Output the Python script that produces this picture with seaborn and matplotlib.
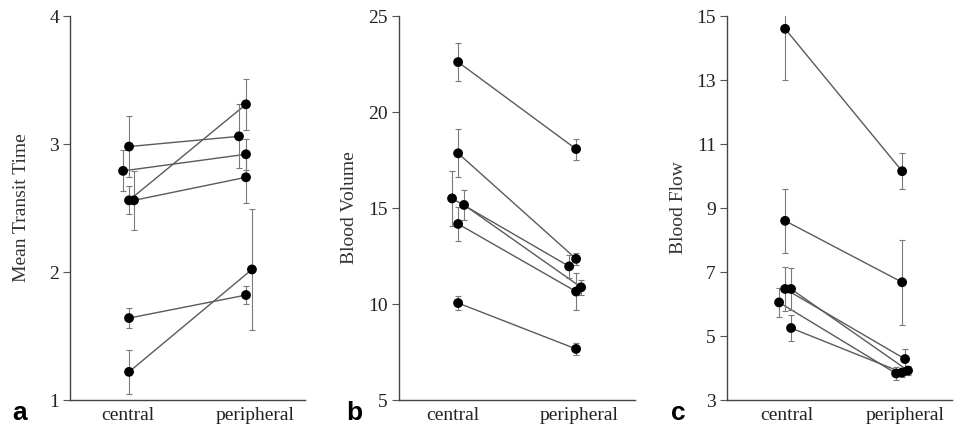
import numpy as np
import pandas as pd
import matplotlib
matplotlib.use("Agg")
import matplotlib.pyplot as plt
import seaborn as sns

# Sites compared for each subject
sites = ["central", "peripheral"]

# Mean transit time: per-subject means and error half-widths
mtt_central = [2.79, 2.98, 2.56, 2.56, 1.64, 1.22]
mtt_central_err = [0.16, 0.24, 0.11, 0.23, 0.08, 0.17]
mtt_peripheral = [2.92, 3.06, 3.31, 2.74, 1.82, 2.02]
mtt_peripheral_err = [0.12, 0.25, 0.20, 0.20, 0.07, 0.47]

# Blood volume
bv_central = [22.6, 17.85, 15.5, 15.16, 14.17, 10.05]
bv_central_err = [1.0, 1.25, 1.45, 0.8, 0.9, 0.35]
bv_peripheral = [18.07, 12.35, 11.96, 10.87, 10.65, 7.66]
bv_peripheral_err = [0.55, 0.3, 0.6, 0.4, 0.95, 0.3]

# Blood flow
bf_central = [14.6, 8.6, 6.47, 6.47, 6.05, 5.25]
bf_central_err = [1.6, 1.0, 0.7, 0.65, 0.45, 0.4]
bf_peripheral = [10.15, 6.68, 4.28, 3.92, 3.83, 3.86]
bf_peripheral_err = [0.57, 1.33, 0.3, 0.15, 0.2, 0.15]

mtt_ticks = [1, 2, 3, 4]
bv_ticks = [5, 10, 15, 20, 25]
bf_ticks = [3, 5, 7, 9, 11, 13, 15]

# Small horizontal dodge so overlapping subjects stay visible
mtt_dodge_c = [-0.039, 0.008, 0.008, 0.047, 0.008, 0.008]
mtt_dodge_p = [-0.071, -0.126, -0.071, -0.071, -0.071, -0.024]
bv_dodge_c = [0.04, 0.04, -0.008, 0.087, 0.04, 0.04]
bv_dodge_p = [-0.024, -0.024, -0.079, 0.016, -0.024, -0.024]
bf_dodge_c = [-0.014, -0.014, -0.014, 0.036, -0.065, 0.036]
bf_dodge_p = [-0.025, -0.025, 0.0, 0.025, -0.076, -0.025]


def long_table(c, ce, p, pe, dc, dp):
    n = len(c)
    return pd.DataFrame({
        "subject": list(range(n)) * 2,
        "site": [sites[0]] * n + [sites[1]] * n,
        "x": [0 + d for d in dc] + [1 + d for d in dp],
        "value": list(c) + list(p),
        "err": list(ce) + list(pe),
    })


panels = [
    dict(df=long_table(mtt_central, mtt_central_err, mtt_peripheral, mtt_peripheral_err,
                       mtt_dodge_c, mtt_dodge_p),
         ylabel="Mean Transit Time", ticks=mtt_ticks, xlim=(-0.457, 1.394),
         rect=[0.0733, 0.0654, 0.2461, 0.8972], letter="a", lx=0.013, labx=-0.170),
    dict(df=long_table(bv_central, bv_central_err, bv_peripheral, bv_peripheral_err,
                       bv_dodge_c, bv_dodge_p),
         ylabel="Blood Volume", ticks=bv_ticks, xlim=(-0.429, 1.444),
         rect=[0.4178, 0.0654, 0.2472, 0.8972], letter="b", lx=0.363, labx=-0.174),
    dict(df=long_table(bf_central, bf_central_err, bf_peripheral, bf_peripheral_err,
                       bf_dodge_c, bf_dodge_p),
         ylabel="Blood Flow", ticks=bf_ticks, xlim=(-0.505, 1.397),
         rect=[0.7613, 0.0654, 0.2356, 0.8972], letter="c", lx=0.703, labx=-0.178),
]

sns.set_theme(style="ticks")
plt.rcParams["font.family"] = ["Liberation Serif", "DejaVu Serif"]

fig = plt.figure(figsize=(9.55, 4.28), dpi=100)

line_col = "#5a5a5a"
err_col = "#7a7a7a"

for p in panels:
    ax = fig.add_axes(p["rect"])
    df = p["df"]
    sns.lineplot(data=df, x="x", y="value", units="subject", estimator=None,
                 sort=False, color=line_col, linewidth=1.0, ax=ax, legend=False)
    ax.errorbar(df["x"], df["value"], yerr=df["err"], fmt="none",
                ecolor=err_col, elinewidth=0.8, capsize=2, capthick=0.8, zorder=3)
    sns.scatterplot(data=df, x="x", y="value", color="black", s=50,
                    edgecolor="none", ax=ax, legend=False, zorder=4)

    ax.set_xlim(*p["xlim"])
    ax.set_ylim(p["ticks"][0], p["ticks"][-1])
    ax.set_yticks(p["ticks"])
    ax.set_xticks([0, 1])
    ax.set_xticklabels(sites)
    ax.set_xlabel("")
    ax.set_ylabel(p["ylabel"], fontsize=14, color="#333333")
    ax.yaxis.set_label_coords(p["labx"], 0.5)
    ax.tick_params(axis="x", length=0, pad=5, labelsize=14, labelcolor="#222222")
    ax.tick_params(axis="y", length=5, width=0.8, color="#555555", pad=3,
                   labelsize=14, labelcolor="#222222", direction="out")
    sns.despine(ax=ax)
    for s in ("left", "bottom"):
        ax.spines[s].set_color("#444444")
        ax.spines[s].set_linewidth(1.0)
    ax.patch.set_alpha(0)

    fig.text(p["lx"], 0.018, p["letter"], fontsize=19, fontweight="bold",
             family="Liberation Sans", color="black", ha="left", va="baseline")

fig.savefig("out.png", dpi=100)
